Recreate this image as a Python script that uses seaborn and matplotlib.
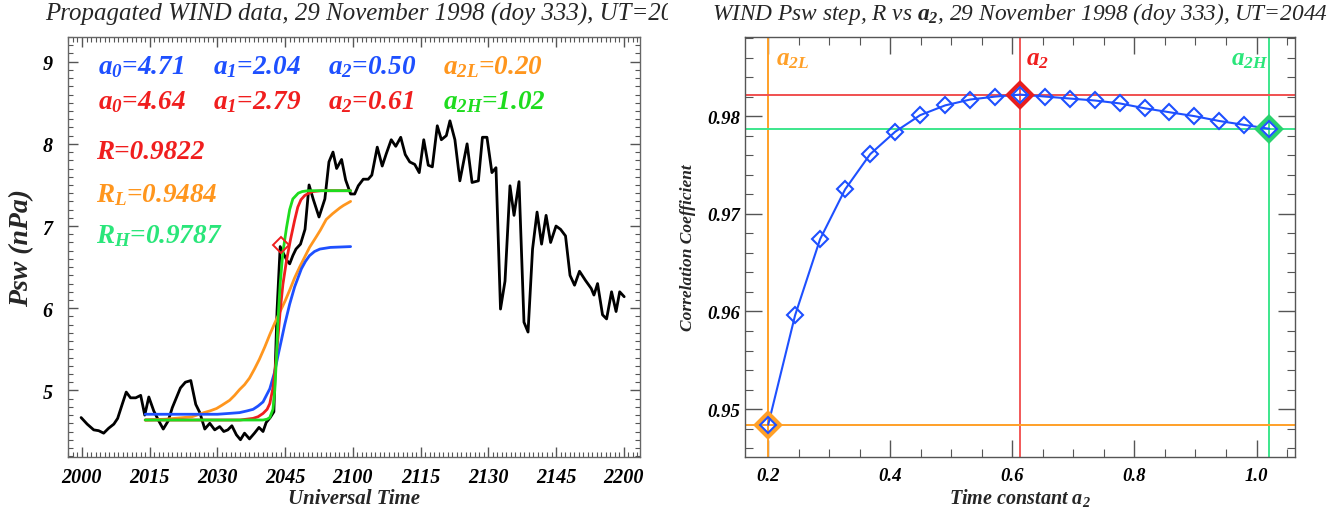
import numpy as np
import pandas as pd
import matplotlib
matplotlib.use("Agg")
import matplotlib.pyplot as plt
import seaborn as sns
from matplotlib.ticker import MultipleLocator, FixedLocator, FormatStrFormatter
from matplotlib.transforms import Bbox

# ---------------- data ----------------
ut_ticks = [0, 15, 30, 45, 60, 75, 90, 105, 120]          # minutes after 2000 UT
ut_labels = ['2000', '2015', '2030', '2045', '2100', '2115', '2130', '2145', '2200']

t_obs = [-0.2, 1.15, 2.6, 3.7, 4.8, 5.9, 7.05, 7.9, 8.9, 9.8, 10.75, 11.9, 13.0, 13.9,
         14.8, 15.9, 17.0, 18.0, 19.1, 20.0, 21.8, 22.9, 24.1, 25.2, 26.1, 27.2, 28.3,
         29.4, 30.5, 31.4, 32.3, 33.2, 34.2, 35.1, 36.0, 37.1, 38.2, 39.2, 40.1, 40.8,
         41.7, 42.5, 43.2, 43.9, 44.5, 45.4, 46.0, 46.7, 47.4, 48.4, 49.4, 50.3, 51.2,
         52.5, 53.8, 54.7, 55.6, 56.4, 57.5, 58.4, 59.5, 60.4, 61.2, 62.3, 63.4, 64.2,
         65.4, 66.5, 67.4, 68.5, 69.5, 70.6, 71.6, 72.6, 73.7, 74.7, 75.7, 76.7, 77.6,
         78.7, 79.6, 80.7, 81.5, 82.6, 83.7, 85.3, 86.4, 87.8, 88.7, 89.7, 90.8, 91.7,
         92.7, 93.7, 94.8, 95.7, 96.8, 97.9, 98.8, 99.8, 100.8, 101.8, 102.8, 103.8,
         105.0, 106.0, 107.1, 108.1, 109.1, 110.2, 111.5, 112.8, 113.4, 114.2, 115.3,
         116.2, 117.3, 118.3, 119.1, 120.1]
psw_obs = [4.67, 4.59, 4.52, 4.51, 4.48, 4.54, 4.59, 4.66, 4.83, 4.98, 4.91, 4.91, 4.94, 4.70,
           4.92, 4.75, 4.63, 4.53, 4.63, 4.79, 5.03, 5.10, 5.12, 4.83, 4.73, 4.53, 4.60,
           4.52, 4.56, 4.50, 4.52, 4.57, 4.46, 4.40, 4.48, 4.41, 4.48, 4.55, 4.50, 4.61,
           4.67, 4.74, 5.97, 6.75, 6.68, 6.58, 6.54, 6.64, 6.72, 6.78, 6.96, 7.50, 7.33,
           7.11, 7.33, 7.78, 7.90, 7.70, 7.81, 7.56, 7.39, 7.39, 7.49, 7.57, 7.57, 7.62,
           7.96, 7.73, 7.88, 8.05, 7.97, 8.08, 7.87, 7.78, 7.75, 7.65, 8.05, 7.74, 7.72,
           8.22, 8.05, 8.10, 8.28, 8.05, 7.55, 8.00, 7.53, 7.55, 8.08, 8.08, 7.65, 7.71,
           5.99, 6.33, 7.49, 7.13, 7.54, 5.83, 5.71, 6.72, 7.17, 6.78, 7.13, 6.80,
           7.00, 6.96, 6.88, 6.40, 6.28, 6.45, 6.34, 6.24, 6.16, 6.30, 5.92,
           5.87, 6.20, 5.96, 6.20, 6.14]

t_blue = [14.0, 30.0, 32.5, 34.9, 36.5, 37.9, 39.0, 40.1, 41.6, 42.7, 43.4, 44.2, 44.9, 46.0,
          47.1, 48.6, 49.5, 50.4, 51.5, 52.7, 55.0, 59.5]
psw_blue = [4.71, 4.71, 4.72, 4.73, 4.75, 4.77, 4.81, 4.86, 5.02, 5.23, 5.42, 5.62, 5.80, 6.05,
            6.26, 6.48, 6.57, 6.64, 6.69, 6.72, 6.74, 6.75]

t_red = [14.0, 35.0, 37.9, 39.0, 40.1, 41.0, 41.6, 42.3, 42.9, 43.4, 43.9, 44.5, 45.3, 46.2,
         47.1, 47.8, 48.5, 49.3, 50.2, 51.2, 53.0, 59.5]
psw_red = [4.64, 4.64, 4.66, 4.68, 4.72, 4.77, 4.84, 5.03, 5.32, 5.64, 5.97, 6.29, 6.58, 6.84,
           7.07, 7.23, 7.32, 7.37, 7.40, 7.42, 7.43, 7.43]

t_green = [14.0, 40.1, 41.0, 41.6, 42.3, 42.7, 43.1, 43.4, 43.9, 44.5, 45.3, 46.0, 46.7,
           47.9, 48.8, 50.1, 59.5]
psw_green = [4.64, 4.64, 4.65, 4.67, 4.77, 5.00, 5.42, 5.85, 6.30, 6.68, 6.98, 7.20, 7.33,
             7.40, 7.42, 7.43, 7.43]

t_orange = [14.0, 18.5, 20.5, 22.5, 24.4, 26.0, 27.0, 28.3, 29.8, 31.0, 32.7, 33.8, 34.9,
            36.0, 37.1, 38.2, 39.3, 40.5, 41.6, 42.7, 43.8, 45.0, 46.0, 47.1, 48.2, 49.3,
            50.4, 51.9, 52.8, 54.1, 55.5, 57.1, 57.9, 59.5]
psw_orange = [4.64, 4.65, 4.66, 4.67, 4.68, 4.71, 4.73, 4.75, 4.78, 4.82, 4.88, 4.94, 5.01,
              5.07, 5.15, 5.26, 5.38, 5.53, 5.68, 5.82, 5.95, 6.09, 6.22, 6.37, 6.50, 6.62,
              6.74, 6.87, 6.95, 7.08, 7.15, 7.22, 7.25, 7.30]

t_step, psw_step = 44.0, 6.77

a2_vals = [0.20, 0.244, 0.285, 0.326, 0.367, 0.408, 0.449, 0.490, 0.531, 0.572, 0.613,
           0.654, 0.694, 0.735, 0.776, 0.817, 0.857, 0.898, 0.939, 0.980, 1.021]
r_vals = [0.9484, 0.9596, 0.9674, 0.9725, 0.9761, 0.9784, 0.9801, 0.9811, 0.9817, 0.9820, 0.9822,
          0.9820, 0.9818, 0.9816, 0.9813, 0.9808, 0.9804, 0.9800, 0.9795, 0.9791, 0.9787]
a2_L, a2_opt, a2_H = 0.20, 0.613, 1.021
R_L, R_opt, R_H = 0.9484, 0.9822, 0.9787

# ---------------- style ----------------
sns.set_style("ticks")
plt.rcParams['font.family'] = ['Liberation Serif', 'DejaVu Serif']
plt.rcParams['mathtext.fontset'] = 'custom'
plt.rcParams['mathtext.it'] = 'Liberation Serif:bold:italic'
plt.rcParams['mathtext.rm'] = 'Liberation Serif:bold:italic'
plt.rcParams['mathtext.bf'] = 'Liberation Serif:bold:italic'

BLUE = '#1e50ff'
RED = '#f01e1e'
ORANGE = '#ff961e'
GREEN = '#1edc1e'
MINT = '#2ae67a'
BI = dict(fontweight='bold', fontstyle='italic')

W, H = 1336, 510
fig = plt.figure(figsize=(W / 100, H / 100), dpi=100)
ax1 = fig.add_axes([68 / W, 52 / H, 572 / W, 420 / H])
ax2 = fig.add_axes([745 / W, 52 / H, 550 / W, 420 / H])

# ---------------- left panel ----------------
obs = pd.DataFrame({'t': t_obs, 'psw': psw_obs})
sns.lineplot(data=obs, x='t', y='psw', color='black', lw=2.0, ax=ax1, sort=False, estimator=None)
for tt, pp, cc in [(t_orange, psw_orange, ORANGE), (t_blue, psw_blue, BLUE),
                   (t_red, psw_red, RED), (t_green, psw_green, GREEN)]:
    sns.lineplot(x=tt, y=pp, color=cc, lw=2.0, ax=ax1, sort=False, estimator=None)
sns.lineplot(x=[t_step], y=[psw_step], color=RED, marker='D', markersize=8,
             markerfacecolor='none', markeredgecolor=RED, markeredgewidth=1.4, ax=ax1)

ax1.set_xlim(-3.1, 123.6)
ax1.set_ylim(4.19, 9.30)
ax1.xaxis.set_major_locator(FixedLocator(ut_ticks))
ax1.set_xticklabels(ut_labels)
ax1.xaxis.set_minor_locator(MultipleLocator(1))
ax1.yaxis.set_major_locator(MultipleLocator(1))
ax1.yaxis.set_minor_locator(MultipleLocator(0.1))
ax1.tick_params(which='both', direction='in', top=True, right=True, colors='#555555',
                labelcolor='black', labelsize=14.5)
ax1.tick_params(which='major', length=7, width=1)
ax1.tick_params(which='minor', length=3.5, width=0.8)
ax1.tick_params(axis='x', which='major', pad=7)
ax1.tick_params(axis='y', which='major', pad=11)
for lab in ax1.get_xticklabels() + ax1.get_yticklabels():
    lab.set_fontweight('bold'); lab.set_fontstyle('italic')
for s in ax1.spines.values():
    s.set_color('#666666'); s.set_linewidth(1)
ax1.set_xlabel('Universal Time', fontsize=15, labelpad=1, **BI)
ax1.set_ylabel('Psw (nPa)', fontsize=20, labelpad=6, **BI)

fs = 19.5
ax1.text(3.5, 8.86, r'$a_0$=4.71', color=BLUE, fontsize=fs, **BI)
ax1.text(29.0, 8.86, r'$a_1$=2.04', color=BLUE, fontsize=fs, **BI)
ax1.text(54.5, 8.86, r'$a_2$=0.50', color=BLUE, fontsize=fs, **BI)
ax1.text(80.0, 8.86, r'$a_{2L}$=0.20', color=ORANGE, fontsize=fs, **BI)
ax1.text(3.5, 8.44, r'$a_0$=4.64', color=RED, fontsize=fs, **BI)
ax1.text(29.0, 8.44, r'$a_1$=2.79', color=RED, fontsize=fs, **BI)
ax1.text(54.5, 8.44, r'$a_2$=0.61', color=RED, fontsize=fs, **BI)
ax1.text(80.0, 8.44, r'$a_{2H}$=1.02', color=GREEN, fontsize=fs, **BI)
ax1.text(3.1, 7.83, 'R=0.9822', color=RED, fontsize=fs, **BI)
ax1.text(3.1, 7.30, r'$R_L$=0.9484', color=ORANGE, fontsize=fs, **BI)
ax1.text(3.1, 6.80, r'$R_H$=0.9787', color=MINT, fontsize=fs, **BI)

t1 = fig.text(45 / W, 1 - 14 / H, 'Propagated WIND data, 29 November 1998 (doy 333), UT=2044',
              fontsize=17.9, fontstyle='italic', ha='left', va='center')
t1.set_clip_on(True)
t1.set_clip_box(Bbox.from_extents(0, 0, 668, H))

# ---------------- right panel ----------------
ax2.axvline(a2_L, color='#ffa028', lw=1.4)
ax2.axvline(a2_opt, color='#f03c3c', lw=1.2)
ax2.axvline(a2_H, color='#3ce68c', lw=1.4)
ax2.axhline(R_L, color='#ffa028', lw=1.4)
ax2.axhline(R_opt, color='#f05050', lw=1.4)
ax2.axhline(R_H, color='#3ce68c', lw=1.4)

rc = pd.DataFrame({'a2': a2_vals, 'R': r_vals})
sns.lineplot(data=rc, x='a2', y='R', color=BLUE, lw=1.5, ax=ax2, sort=False, estimator=None)
for xa, ya, cc in [(a2_L, R_L, '#ffa028'), (a2_opt, R_opt, '#e81e1e'), (a2_H, R_H, '#2ad26e')]:
    sns.lineplot(x=[xa], y=[ya], marker='D', markersize=12, markerfacecolor='none',
                 markeredgecolor=cc, markeredgewidth=3.0, color=cc, ax=ax2)
sns.lineplot(data=rc, x='a2', y='R', marker='D', markersize=8, lw=0, markerfacecolor='none',
             markeredgecolor=BLUE, markeredgewidth=1.5, color=BLUE, ax=ax2, estimator=None)

ax2.set_xlim(0.162, 1.063)
ax2.set_ylim(0.9451, 0.9881)
ax2.xaxis.set_major_locator(MultipleLocator(0.2))
ax2.xaxis.set_minor_locator(MultipleLocator(0.05))
ax2.yaxis.set_major_locator(MultipleLocator(0.01))
ax2.yaxis.set_minor_locator(MultipleLocator(0.002))
ax2.xaxis.set_major_formatter(FormatStrFormatter('%.1f'))
ax2.yaxis.set_major_formatter(FormatStrFormatter('%.2f'))
ax2.tick_params(which='both', direction='in', top=True, right=True, colors='#555555',
                labelcolor='black', labelsize=13.5)
ax2.tick_params(which='major', length=12, width=1)
ax2.tick_params(which='minor', length=6, width=0.8)
ax2.tick_params(axis='x', which='major', pad=7)
for lab in ax2.get_xticklabels() + ax2.get_yticklabels():
    lab.set_fontweight('bold'); lab.set_fontstyle('italic')
for s in ax2.spines.values():
    s.set_color('#555555'); s.set_linewidth(1)
ax2.set_xlabel(r'Time constant $a_2$', fontsize=14.5, labelpad=2, **BI)
ax2.set_ylabel('Correlation Coefficient', fontsize=12.5, labelpad=8, **BI)

ax2.text(0.213, 0.9853, r'$a_{2L}$', color='#ffa028', fontsize=18, **BI)
ax2.text(0.622, 0.9853, r'$a_2$', color=RED, fontsize=18, **BI)
ax2.text(0.958, 0.9853, r'$a_{2H}$', color=MINT, fontsize=18, **BI)

fig.text((745 + 275) / W, 1 - 14 / H,
         r'WIND Psw step, R vs $a_2$, 29 November 1998 (doy 333), UT=2044',
         fontsize=16.8, fontstyle='italic', ha='center', va='center')

fig.savefig('out.png', dpi=100)
